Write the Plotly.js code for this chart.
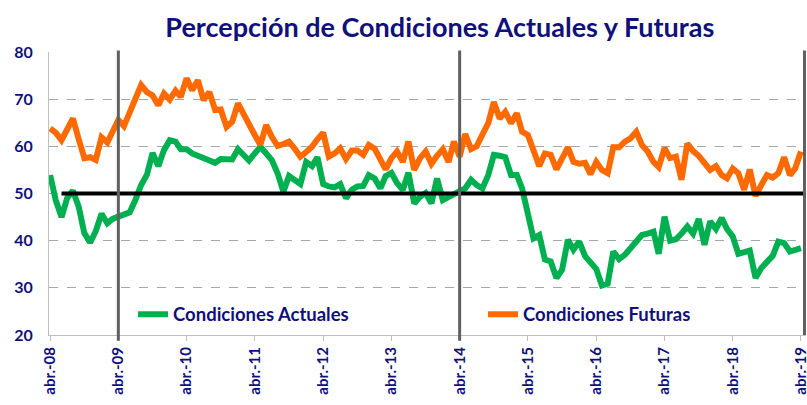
<!DOCTYPE html>
<html>
<head>
<meta charset="utf-8">
<script src="https://cdn.plot.ly/plotly-3.0.1.min.js"></script>
<style>html,body{margin:0;padding:0;background:#fff;}#chart{width:807px;height:405px;}</style>
</head>
<body>
<div id="chart"></div>
<script>
// Monthly series, abr. 2008 – abr. 2019
const startYear = 2008, startMonth = 4;
const condicionesActuales = [
53.9,48.6,45.0,49.0,50.6,47.2,41.6,39.6,42.0,45.7,43.7,44.6,
45.1,45.5,46.0,48.6,51.8,54.0,58.6,55.8,59.2,61.3,61.0,59.4,
59.4,58.5,58.0,57.5,57.3,56.5,57.3,57.1,57.2,59.4,58.0,57.0,
58.5,59.9,58.5,57.1,54.3,50.4,53.7,53.0,52.0,56.7,55.8,57.7,
52.0,51.5,51.3,52.0,49.0,50.8,51.5,51.6,53.9,53.2,51.1,53.7,
54.4,52.2,50.8,54.4,47.9,49.3,50.1,47.9,53.2,48.6,49.3,50.1,
50.5,51.1,52.9,51.8,51.1,53.9,58.2,58.0,57.7,53.9,53.9,51.1,
46.2,40.5,41.2,36.0,35.6,32.1,33.8,40.2,38.1,39.8,36.7,35.5,
34.0,30.5,30.9,37.7,36.1,37.0,38.5,40.0,41.2,41.5,41.9,37.2,
45.1,40.0,40.3,41.5,43.0,41.5,44.6,39.1,44.1,42.5,44.8,42.5,
40.9,37.2,37.5,37.9,32.1,34.2,35.5,36.8,39.8,39.5,37.7,38.1,
38.4];
const condicionesFuturas = [
63.8,62.9,61.3,63.5,65.9,61.5,57.5,57.7,57.1,61.9,60.8,63.1,
65.6,64.3,67.0,70.0,73.0,71.5,70.8,68.7,71.2,69.9,71.8,70.5,
74.4,71.9,74.0,69.8,71.5,67.7,67.8,64.1,65.2,69.1,67.0,64.5,
62.4,60.3,64.5,62.0,60.1,60.5,61.0,59.5,57.8,58.8,59.9,61.5,
62.9,57.8,58.5,59.6,57.3,59.1,59.1,58.2,60.3,59.5,57.0,55.1,
57.5,58.9,56.7,61.0,55.0,57.5,58.9,56.3,58.0,59.4,56.7,61.0,
57.8,62.6,59.4,60.0,62.5,64.9,69.4,65.9,67.3,64.9,67.0,63.1,
62.4,59.0,55.8,58.5,58.2,55.1,57.5,59.8,56.7,56.3,56.5,54.1,
56.7,55.0,54.3,59.8,59.8,61.0,61.7,63.1,60.3,58.9,56.7,55.6,
59.6,57.5,57.8,52.9,60.6,59.0,58.0,56.7,55.0,55.8,53.9,53.2,
55.3,54.3,50.8,55.1,49.5,51.8,53.9,53.4,54.3,57.7,53.9,55.3,
58.9];
const tickDates = ['2008-04-01','2009-04-01','2010-04-01','2011-04-01','2012-04-01','2013-04-01',
  '2014-04-01','2015-04-01','2016-04-01','2017-04-01','2018-04-01','2019-04-01'];
const tickLabels = ['abr.-08','abr.-09','abr.-10','abr.-11','abr.-12','abr.-13',
  'abr.-14','abr.-15','abr.-16','abr.-17','abr.-18','abr.-19'];
const referenceLevel = 50;
const referenceStart = '2008-06-01';
const dividerDates = ['2009-04-01','2014-04-01'];
const yTicks = [20,30,40,50,60,70,80];

const dates = condicionesActuales.map((_, i) => {
  const m = startMonth - 1 + i;
  const y = startYear + Math.floor(m / 12);
  const mm = String(m % 12 + 1).padStart(2, '0');
  return y + '-' + mm + '-01';
});

const xRange = ['2008-03-26', '2019-04-28'];
const navy = '#10107a';
const fontFam = 'Lato, "Open Sans", sans-serif';
const legendFont = {family: fontFam, size: 18.5, weight: 'bold', color: navy};

const traces = [
  {x: dates, y: condicionesActuales, type: 'scatter', mode: 'lines', name: 'Condiciones Actuales',
   line: {color: '#00b050', width: 6}, legend: 'legend'},
  {x: dates, y: condicionesFuturas, type: 'scatter', mode: 'lines', name: 'Condiciones Futuras',
   line: {color: '#ff6a00', width: 6}, legend: 'legend2'},
  {x: [referenceStart, xRange[1]], y: [referenceLevel, referenceLevel], type: 'scatter', mode: 'lines',
   showlegend: false, hoverinfo: 'skip', line: {color: '#000000', width: 4}}
];

const shapes = dividerDates.map(d => ({
  type: 'line', xref: 'x', yref: 'paper', x0: d, x1: d, y0: -0.02, y1: 1.005,
  line: {color: '#606060', width: 3}, layer: 'above'
}));
shapes.push({type: 'line', xref: 'paper', yref: 'paper', x0: 0.998, x1: 0.998, y0: 0, y1: 1.005,
  line: {color: '#606060', width: 3}, layer: 'above'});

const layout = {
  width: 807, height: 405,
  margin: {l: 49, r: 1, t: 52, b: 70},
  paper_bgcolor: '#ffffff', plot_bgcolor: '#ffffff',
  title: {text: 'Percepción de Condiciones Actuales y Futuras', x: 0.545, xref: 'container',
    y: 0.931, yref: 'container', xanchor: 'center', yanchor: 'middle',
    font: {family: fontFam, size: 27, weight: 'bold', color: navy}},
  xaxis: {type: 'date', range: xRange, tickvals: tickDates, ticktext: tickLabels, tickangle: -90,
    showgrid: false, zeroline: false, showline: true, linecolor: '#bfbfbf', linewidth: 1,
    ticks: 'outside', ticklen: 5, tickcolor: '#bfbfbf', ticklabeloverflow: 'allow',
    tickfont: {family: fontFam, size: 15, weight: 'bold', color: navy}},
  yaxis: {range: [20, 80], tickvals: yTicks, showgrid: true, gridcolor: '#a6a6a6', griddash: 'dash',
    gridwidth: 1, zeroline: false, showline: true, linecolor: '#bfbfbf', linewidth: 1,
    ticks: '', ticklabelstandoff: 12,
    tickfont: {family: fontFam, size: 16, weight: 'bold', color: navy}},
  legend: {orientation: 'h', x: 0.111, xanchor: 'left', y: 0.072, yanchor: 'middle',
    bgcolor: 'rgba(0,0,0,0)', font: legendFont},
  legend2: {orientation: 'h', x: 0.5733, xanchor: 'left', y: 0.072, yanchor: 'middle',
    bgcolor: 'rgba(0,0,0,0)', font: legendFont},
  shapes: shapes,
  showlegend: true
};

Plotly.newPlot('chart', traces, layout, {staticPlot: true});
</script>
</body>
</html>
